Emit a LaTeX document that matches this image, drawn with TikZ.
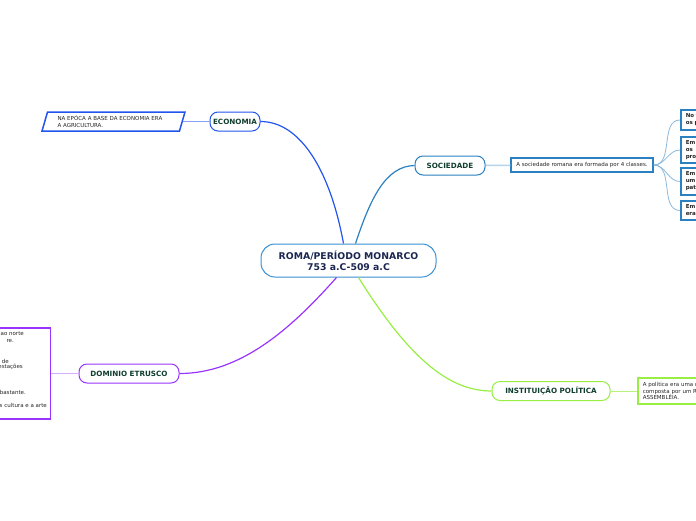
\documentclass[tikz,border=0pt]{standalone}
\usepackage{fontspec}
\setmainfont{DejaVu Sans}
\usetikzlibrary{positioning,calc,shapes.geometric}

\definecolor{rootline}{HTML}{3A8FD0}
\definecolor{roottext}{HTML}{1A2550}
\definecolor{labeltext}{HTML}{0F3D2E}
\definecolor{ecoline}{HTML}{2255EE}
\definecolor{socline}{HTML}{2A80C0}
\definecolor{etrline}{HTML}{9933FF}
\definecolor{polline}{HTML}{99EE44}

\begin{document}
\begin{tikzpicture}[x=1pt, y=-1pt,
    topic/.style={draw, rounded corners=8pt, line width=1pt, minimum height=19pt, inner sep=0pt,
        fill=white, text=labeltext, font=\fontsize{7.2}{8}\selectfont\bfseries},
    note/.style={draw, line width=1.5pt, inner sep=0pt, fill=white, text=black!85, align=left,
        font=\fontsize{5.5}{6.7}\selectfont},
    classe/.style={note, anchor=west, minimum width=40pt, text width=32pt, inner xsep=5pt,
        font=\fontsize{5.5}{7}\selectfont\bfseries},
    branch/.style={line width=1.2pt}
  ]

    \useasboundingbox (0,0) rectangle (696,520);
    \clip (0,0) rectangle (696,520);

    \node[draw=rootline, rounded corners=14pt, line width=1pt, minimum width=175pt, minimum height=33pt,
        align=center, text=roottext, font=\fontsize{9.3}{11}\selectfont\bfseries] (root) at (348.5,260.5)
        {ROMA/PERÍODO MONARCO\\753 a.C-509 a.C};

    \node[topic, draw=ecoline, minimum width=50pt] (economia) at (235,121.5) {ECONOMIA};
    \node[topic, draw=socline, minimum width=70pt] (sociedade) at (450,165.5) {SOCIEDADE};
    \node[topic, draw=etrline, minimum width=100pt] (etrusco) at (129,373.5) {DOMINIO ETRUSCO};
    \node[topic, draw=polline, minimum width=118pt] (politica) at (551,391) {INSTITUIÇÃO POLÍTICA};

    % notes
    \node[note, draw=ecoline, trapezium, trapezium left angle=65, trapezium right angle=115,
        trapezium stretches body, minimum width=143pt, minimum height=19pt, text width=112pt]
        (econota) at (113.5,121.5) {NA EPÓCA A BASE DA ECONOMIA ERA\\A AGRICULTURA.};
    \node[note, draw=socline, minimum width=142pt, minimum height=14pt] (socnota) at (582,165)
        {A sociedade romana era formada por 4 classes.};
    \node[note, draw=etrline, anchor=east, minimum width=90pt, minimum height=91pt] (etrnota) at (51,373.5) {};
    \node[note, draw=polline, anchor=west, minimum width=70pt, minimum height=26pt, text width=60pt,
        inner xsep=5pt] (polnota) at (637,391) {A política era uma r\\composta por um R\\ASSEMBLÉIA.};

    \foreach \i/\e/\y/\t in {1/24/334/ao norte, 2/14/341/re., 3/9/361/de, 4/23/367/estações,
        5/26/392/bastante., 6/47/405/s cultura e a arte}
        \node[anchor=east, inner sep=0pt, text=black!85, font=\fontsize{5.5}{6.7}\selectfont] (etr\i) at (\e,\y) {\t};

    \node[classe, draw=socline, minimum height=20pt] (classe1) at (680,120) {No t\\os p};
    \node[classe, draw=socline, minimum height=26pt] (classe2) at (680,150) {Em\\os\\proj};
    \node[classe, draw=socline, minimum height=27pt] (classe3) at (680,181.5) {Em\\um\\pat};
    \node[classe, draw=socline, minimum height=19pt] (classe4) at (680,210.5) {Em\\era};

    % branches
    \draw[branch, ecoline] ([xshift=-5pt]root.north) .. controls (330,170) and (300,121.5) .. (economia.east);
    \draw[branch, socline] ([xshift=7pt]root.north) .. controls (370,200) and (385,166) .. (sociedade.west);
    \draw[branch, etrline] ([xshift=-12pt]root.south) .. controls (290,330) and (240,373.5) .. (etrusco.east);
    \draw[branch, polline] ([xshift=10pt]root.south) .. controls (410,360) and (450,391) .. (politica.west);

    \draw[line width=1pt, ecoline!55] (economia) -- (econota);
    \draw[line width=1.5pt, socline!35] (sociedade) -- (socnota);
    \draw[line width=1pt, etrline!40] (etrusco) -- (etrnota);
    \draw[line width=1pt, polline!70] (politica) -- (polnota);

    \foreach \i in {1,...,4}
        \draw[line width=0.8pt, socline!55] (socnota.east) to[out=0, in=180] (classe\i.west);

\end{tikzpicture}
\end{document}
